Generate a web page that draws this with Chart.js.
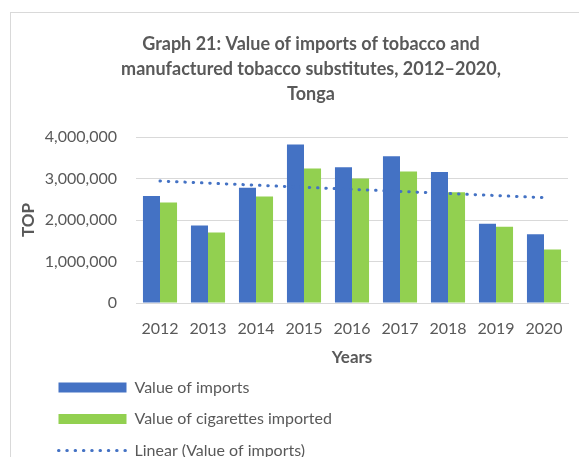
<!DOCTYPE html>
<html>
<head>
<meta charset="utf-8">
<script src="https://cdn.jsdelivr.net/npm/chart.js@4/dist/chart.umd.min.js"></script>
<style>
  html, body { margin: 0; padding: 0; background: #ffffff; overflow: hidden; width: 579px; height: 457px; }
  #frame { position: absolute; left: 10px; top: 12px; width: 602px; height: 520px; border: 1px solid #d9d9d9; box-sizing: border-box; }
  #wrap { position: absolute; left: 0; top: 0; width: 622px; height: 457px; }
</style>
</head>
<body>
<div id="frame"></div>
<div id="wrap"><canvas id="c" width="622" height="457"></canvas></div>
<script>
// ---- data ----
const years = ['2012', '2013', '2014', '2015', '2016', '2017', '2018', '2019', '2020'];
const valueOfImports = [2580000, 1870000, 2780000, 3820000, 3270000, 3540000, 3160000, 1910000, 1660000];
const valueOfCigarettes = [2420000, 1700000, 2570000, 3240000, 3000000, 3170000, 2670000, 1840000, 1290000];
// linear trend line of "Value of imports": start and end
const linearTrend = [2940000, null, null, null, null, null, null, null, 2540000];
const yTicks = [0, 1000000, 2000000, 3000000, 4000000];
const titleLines = ['Graph 21: Value of imports of tobacco and', 'manufactured tobacco substitutes, 2012\u20132020,', 'Tonga'];
const seriesNames = ['Value of imports', 'Value of cigarettes imported', 'Linear (Value of imports)'];

const FONT = 'Lato, "Noto Sans", sans-serif';
const GREY = '#595959';
const BLUE = '#4472C4';
const GREEN = '#92D050';
const TREND_DASH = [0.5, 7.8];

const legendShift = {
  id: 'legendShift',
  afterLayout(chart) {
    const L = chart.legend;
    if (!L) return;
    const w = L.right - L.left;
    L.left = 43; L.right = 43 + w;
    L.top = 364; L.bottom = 520;
    L.height = L.bottom - L.top;
  }
};

new Chart(document.getElementById('c'), {
  type: 'bar',
  data: {
    labels: years,
    datasets: [
      { label: seriesNames[0], data: valueOfImports, backgroundColor: BLUE, borderWidth: 0,
        categoryPercentage: 0.71, barPercentage: 1.0, order: 1 },
      { label: seriesNames[1], data: valueOfCigarettes, backgroundColor: GREEN, borderWidth: 0,
        categoryPercentage: 0.71, barPercentage: 1.0, order: 2 },
      { type: 'line', label: seriesNames[2], data: linearTrend, spanGaps: true,
        borderColor: BLUE, backgroundColor: BLUE, borderWidth: 3, borderDash: TREND_DASH,
        borderCapStyle: 'round', pointRadius: 0, fill: false, tension: 0, order: 0 }
    ]
  },
  options: {
    responsive: false,
    animation: false,
    devicePixelRatio: 1,
    layout: { padding: { left: 10, right: 10, top: 0, bottom: 89 } },
    plugins: {
      tooltip: { enabled: false },
      title: {
        display: true,
        text: titleLines,
        color: GREY,
        font: { family: FONT, size: 18, weight: 'bold', lineHeight: 1.39 },
        padding: { top: 32, bottom: 30 }
      },
      legend: {
        display: true,
        position: 'chartArea',
        align: 'start',
        labels: {
          color: GREY,
          font: { family: FONT, size: 16 },
          usePointStyle: true,
          pointStyleWidth: 68,
          boxHeight: 10,
          padding: 15.5,
          sort: (a, b) => a.datasetIndex - b.datasetIndex,
          generateLabels(chart) {
            const items = Chart.defaults.plugins.legend.labels.generateLabels(chart);
            items.forEach(it => {
              const ds = chart.data.datasets[it.datasetIndex];
              if (ds.type === 'line') {
                it.pointStyle = 'line';
                it.strokeStyle = ds.borderColor;
                it.lineWidth = ds.borderWidth;
                it.lineDash = ds.borderDash;
                it.lineCap = 'round';
              } else {
                it.pointStyle = 'rect';
                it.lineWidth = 0;
              }
            });
            return items;
          }
        }
      }
    },
    scales: {
      x: {
        grid: { display: false },
        border: { display: true, color: '#d9d9d9', width: 1 },
        ticks: { color: GREY, font: { family: FONT, size: 16 }, padding: 8, maxRotation: 0 },
        title: { display: true, text: 'Years', color: GREY, font: { family: FONT, size: 17, weight: 'bold' }, padding: { top: 0, bottom: 0 } },
        afterFit(scale) { scale.height = 65; }
      },
      y: {
        min: 0,
        max: 4000000,
        afterBuildTicks(scale) { scale.ticks = yTicks.map(v => ({ value: v })); },
        grid: { color: '#d9d9d9', lineWidth: 1, drawTicks: false },
        border: { display: false },
        ticks: {
          color: GREY, font: { family: FONT, size: 16 }, padding: 19,
          callback: v => Number(v).toLocaleString('en-US')
        },
        title: { display: true, text: 'TOP', color: GREY, font: { family: FONT, size: 17, weight: 'bold' }, padding: { top: 8, bottom: 0 } },
        afterFit(scale) { scale.width = 126; }
      },
      yRight: {
        position: 'right',
        display: true,
        min: 0,
        max: 4000000,
        grid: { display: false, drawTicks: false },
        border: { display: false },
        ticks: { display: false },
        afterFit(scale) { scale.width = 44; }
      }
    }
  },
  plugins: [legendShift]
});
</script>
</body>
</html>
